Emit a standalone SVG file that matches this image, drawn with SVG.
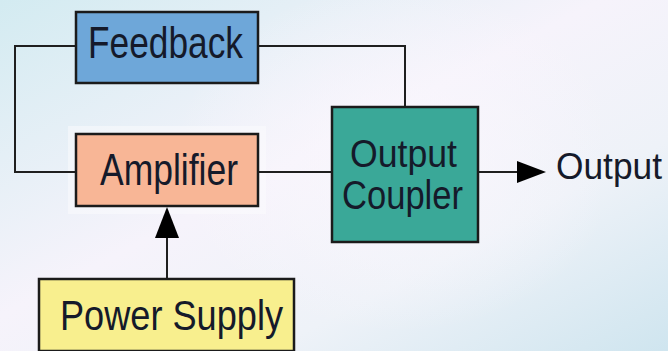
<svg xmlns="http://www.w3.org/2000/svg" width="668" height="351" viewBox="0 0 668 351">
<defs>
<linearGradient id="bg" x1="0" y1="0" x2="1" y2="1">
<stop offset="0" stop-color="#d3ebf1"/>
<stop offset="0.45" stop-color="#f6f3fb"/>
<stop offset="0.7" stop-color="#eef2f8"/>
<stop offset="1" stop-color="#cfe5ef"/>
</linearGradient>
<radialGradient id="glow" cx="0.55" cy="0.45" r="0.5">
<stop offset="0" stop-color="#faf7fd" stop-opacity="0.9"/>
<stop offset="1" stop-color="#faf7fd" stop-opacity="0"/>
</radialGradient>
</defs>
<style>
.box{stroke:#1b1b1b;stroke-width:2.5}
.lbl{font-family:"Liberation Sans",Arial,sans-serif;fill:#151a2a}
.wire{fill:none;stroke:#1f1f1f;stroke-width:2}
</style>
<rect x="0" y="0" width="668" height="351" fill="url(#bg)"/>
<rect x="150" y="0" width="450" height="351" fill="url(#glow)"/>
<rect x="68" y="126" width="198" height="88" fill="#fbfbfd" opacity="0.5"/>
<g id="connectors">
<polyline class="wire" points="76,46 15,46 15,172 76,172"/>
<polyline class="wire" points="258,46 405,46 405,107"/>
<line class="wire" x1="258" y1="172" x2="332" y2="172"/>
<line class="wire" x1="478" y1="172" x2="520" y2="172"/>
<path d="M517,161 L546,172 L517,183 Z" fill="#000"/>
<line class="wire" x1="167" y1="279" x2="167" y2="236"/>
<path d="M167,207 L155,238 L179,238 Z" fill="#000"/>
</g>
<g id="feedback">
<rect class="box" x="76" y="12" width="182" height="71" fill="#6ea7d9"/>
<text class="lbl" x="88" y="58" font-size="44" textLength="155" lengthAdjust="spacingAndGlyphs">Feedback</text>
</g>
<g id="amplifier">
<rect class="box" x="76" y="134" width="182" height="72" fill="#f8b696"/>
<text class="lbl" x="100" y="185" font-size="44" textLength="138" lengthAdjust="spacingAndGlyphs">Amplifier</text>
</g>
<g id="output-coupler">
<rect class="box" x="332" y="107" width="146" height="135" fill="#3aa898"/>
<text class="lbl" x="350" y="167" font-size="39" textLength="107" lengthAdjust="spacingAndGlyphs">Output</text>
<text class="lbl" x="342" y="209" font-size="41" textLength="121" lengthAdjust="spacingAndGlyphs">Coupler</text>
</g>
<g id="power-supply">
<rect class="box" x="39" y="279" width="255" height="72" fill="#f8ef8e"/>
<text class="lbl" x="60" y="330" font-size="42" textLength="223" lengthAdjust="spacingAndGlyphs">Power Supply</text>
</g>
<g id="output-label">
<text class="lbl" x="556" y="179" font-size="37" textLength="106" lengthAdjust="spacingAndGlyphs">Output</text>
</g>
</svg>
